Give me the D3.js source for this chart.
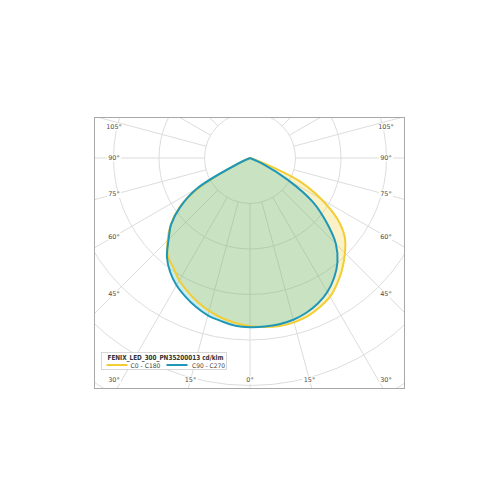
<!DOCTYPE html>
<html>
<head>
<meta charset="utf-8">
<script src="https://cdn.jsdelivr.net/npm/d3@7"></script>
<style>
  html, body { margin: 0; padding: 0; background: #fff; }
  svg { display: block; }
</style>
</head>
<body>
<svg id="chart" width="500" height="500"></svg>
<script>
// ---- data (cd/klm), gamma angles from nadir ----
const gammaAngles = [0, 5, 10, 15, 20, 25, 30, 35, 40, 45, 50, 55, 60, 65, 70, 75, 80, 85, 90];
const c0   = [185, 186.5, 187.5, 187, 185, 181, 176, 167.5, 158, 147.5, 136, 117.5, 90.5, 59.5, 13, 0, 0, 0, 0];
const c180 = [185, 182, 178.5, 174, 168.5, 162, 155.5, 147, 140.5, 128, 113.5, 94.5, 63.5, 9, 0, 0, 0, 0, 0];
const c90  = [186, 186, 185.5, 184, 181, 176.5, 170, 161, 149.5, 133.5, 109.5, 84.5, 48, 16.5, 0, 0, 0, 0, 0];
const c270 = [186, 185, 182, 179, 174, 168, 161.5, 153, 142, 126.5, 113, 93.5, 67.5, 13, 0, 0, 0, 0, 0];
const ringValues = [50, 100, 150, 200, 250, 300];
const sideLabelAngles = [30, 45, 60, 75, 90, 105];
const bottomLabelAngles = [0, 15];
const seriesNames = ["C0 - C180", "C90 - C270"];
const chartTitle = "FENIX_LED_300_PN35200013  cd/klm";

// ---- layout ----
const svg = d3.select("#chart");
const frame = { x: 94.5, y: 117.5, w: 310, h: 271 };
const cx = 250, cy = 158;
const r = d3.scaleLinear().domain([0, 50]).range([0, 45.5]);
const yellow = "#f2cd33", blue = "#1f97b8";
const deg = Math.PI / 180;

svg.append("defs").append("clipPath").attr("id", "frameClip")
  .append("rect").attr("x", frame.x).attr("y", frame.y).attr("width", frame.w).attr("height", frame.h);

const grid = svg.append("g").attr("clip-path", "url(#frameClip)");
grid.selectAll("circle.ring").data(ringValues).join("circle")
  .attr("class", "ring")
  .attr("cx", cx).attr("cy", cy).attr("r", d => r(d))
  .attr("fill", "none").attr("stroke", "#dcdcdc").attr("stroke-width", 1);
const spokes = d3.range(0, 360, 15);
grid.selectAll("line.spoke").data(spokes).join("line")
  .attr("class", "spoke")
  .attr("x1", a => cx + Math.sin(a * deg) * r(ringValues[0]))
  .attr("y1", a => cy + Math.cos(a * deg) * r(ringValues[0]))
  .attr("x2", a => cx + Math.sin(a * deg) * 500)
  .attr("y2", a => cy + Math.cos(a * deg) * 500)
  .attr("stroke", "#dcdcdc").attr("stroke-width", 1);

// ---- curves ----
function halfPlanePoints(leftVals, rightVals) {
  const pts = [];
  for (let i = gammaAngles.length - 1; i >= 0; i--) pts.push([Math.PI + gammaAngles[i] * deg, r(leftVals[i])]);
  for (let i = 1; i < gammaAngles.length; i++) pts.push([Math.PI - gammaAngles[i] * deg, r(rightVals[i])]);
  const out = [];
  pts.forEach(p => {
    const prev = out[out.length - 1];
    if (p[1] === 0 && prev && prev[1] === 0) return;
    out.push(p);
  });
  return out;
}
const radial = d3.lineRadial().angle(d => d[0]).radius(d => d[1]).curve(d3.curveCatmullRom.alpha(0.5));
const series = [
  { name: seriesNames[0], pts: halfPlanePoints(c180, c0), color: yellow, fill: "rgba(242,205,51,0.28)" },
  { name: seriesNames[1], pts: halfPlanePoints(c270, c90), color: blue, fill: "rgba(20,175,180,0.22)" }
];
const plot = svg.append("g").attr("transform", `translate(${cx},${cy})`);
series.forEach(s => {
  plot.append("path").attr("d", radial(s.pts) + "Z").attr("fill", s.fill).attr("stroke", "none");
});
series.forEach(s => {
  plot.append("path").attr("d", radial(s.pts)).attr("fill", "none")
    .attr("stroke", s.color).attr("stroke-width", 2).attr("stroke-linejoin", "round");
});

// ---- angle labels ----
const inset = { left: 114, right: 386, top: 127, bottom: 380 };
const labels = [];
sideLabelAngles.forEach(a => {
  const dx = cx - inset.left;
  let y = cy + dx / Math.tan(a * deg);
  y = Math.max(inset.top, Math.min(inset.bottom, y));
  labels.push({ a, x: inset.left, y });
  labels.push({ a, x: inset.right, y });
});
bottomLabelAngles.forEach(a => {
  const dy = inset.bottom - cy;
  const dx = dy * Math.tan(a * deg);
  labels.push({ a, x: cx - dx, y: inset.bottom });
  if (a !== 0) labels.push({ a, x: cx + dx, y: inset.bottom });
});
const lab = svg.append("g");
lab.selectAll("rect").data(labels).join("rect")
  .attr("x", d => d.x - 7).attr("y", d => d.y - 3.5).attr("width", 14).attr("height", 7)
  .attr("fill", "#fff");
lab.selectAll("text").data(labels).join("text")
  .attr("x", d => d.x).attr("y", d => d.y)
  .attr("text-anchor", "middle").attr("dominant-baseline", "central")
  .attr("font-family", "'DejaVu Sans', sans-serif").attr("font-size", 6.5)
  .attr("fill", "#505050")
  .text(d => d.a + "°");

// ---- frame ----
svg.append("rect").attr("x", frame.x).attr("y", frame.y).attr("width", frame.w).attr("height", frame.h)
  .attr("fill", "none").attr("stroke", "#a8a8a8").attr("stroke-width", 1);

// ---- legend ----
const lg = svg.append("g").attr("transform", "translate(101.5,352.5)");
lg.append("rect").attr("width", 125).attr("height", 17).attr("fill", "#fff")
  .attr("stroke", "#cfcfcf").attr("stroke-width", 0.8);
lg.append("text").attr("x", 6).attr("y", 7.5)
  .attr("font-family", "'DejaVu Sans Condensed', 'DejaVu Sans', sans-serif")
  .attr("font-weight", "bold").attr("font-size", 7).attr("fill", "#333")
  .attr("textLength", 116).attr("lengthAdjust", "spacingAndGlyphs")
  .text(chartTitle);
const items = [
  { x: 5, color: yellow, text: seriesNames[0], tx: 29, tl: 30 },
  { x: 65, color: blue, text: seriesNames[1], tx: 90.5, tl: 33 }
];
items.forEach(it => {
  lg.append("line").attr("x1", it.x).attr("x2", it.x + 21).attr("y1", 12.5).attr("y2", 12.5)
    .attr("stroke", it.color).attr("stroke-width", 2);
  lg.append("text").attr("x", it.tx).attr("y", 15)
    .attr("font-family", "'DejaVu Sans', sans-serif").attr("font-size", 6.3).attr("fill", "#444")
    .attr("textLength", it.tl).attr("lengthAdjust", "spacingAndGlyphs")
    .text(it.text);
});
</script>
</body>
</html>
